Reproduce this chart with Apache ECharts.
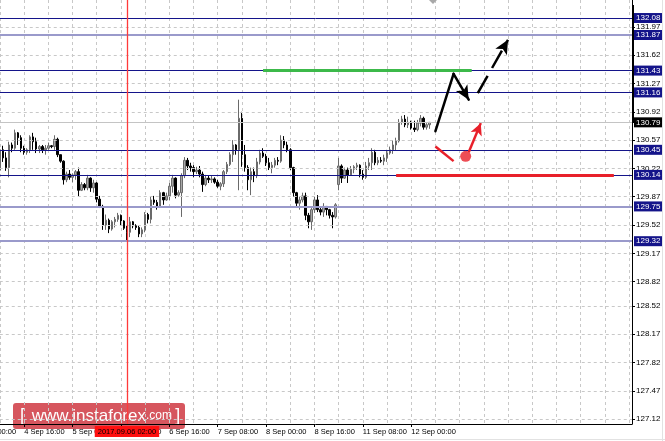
<!DOCTYPE html>
<html><head><meta charset="utf-8">
<script src="https://cdn.jsdelivr.net/npm/echarts@6/dist/echarts.min.js"></script>
<style>html,body{margin:0;padding:0;background:#fff}#c{width:665px;height:441px}</style>
</head><body><div id="c"></div>
<script>
// ---------- DATA ----------
const tradingDays = ['4 Sep','5 Sep','6 Sep','7 Sep','8 Sep','11 Sep','12 Sep','13 Sep','14 Sep','15 Sep'];
const categoryCount = 218;          // hourly bars incl. empty right-side shift
const firstCandleIndex = 8;          // 4 Sep 08:00

const opens = [
130.20,130.45,130.35,130.23,130.51,130.47,130.66,130.60,130.47,130.42,
130.45,130.61,130.55,130.46,130.49,130.45,130.47,130.50,130.49,130.58,
130.39,130.31,130.08,130.15,130.11,130.14,130.18,129.95,130.02,129.98,
130.10,129.98,130.04,129.84,129.75,129.52,129.58,129.47,129.56,129.59,
129.64,129.57,129.48,129.43,129.56,129.51,129.49,129.41,129.46,129.65,
129.59,129.83,129.80,129.74,129.92,129.83,129.88,130.00,130.10,129.89,
129.92,130.13,130.32,130.25,130.23,130.18,130.20,130.15,130.02,130.10,
130.08,130.09,130.05,130.00,130.03,130.18,130.27,130.39,130.51,130.45,
130.84,130.39,130.23,130.08,130.18,130.13,130.30,130.41,130.37,130.29,
130.23,130.26,130.32,130.31,130.57,130.51,130.45,130.23,129.92,129.79,
129.83,129.88,129.64,129.56,129.71,129.83,129.71,129.68,129.75,129.71,
129.64,129.62,130.02,130.25,130.10,130.20,130.14,130.21,130.24,130.26,
130.15,130.11,130.25,130.29,130.42,130.29,130.32,130.31,130.35,130.41,
130.45,130.51,130.56,130.79,130.83,130.76,130.79,130.72,130.70,130.78,
130.84,130.73,130.76];
const closes = [
130.45,130.35,130.23,130.51,130.47,130.66,130.60,130.47,130.42,130.45,
130.61,130.55,130.46,130.49,130.45,130.47,130.50,130.49,130.58,130.39,
130.31,130.08,130.15,130.11,130.14,130.18,129.95,130.02,129.98,130.10,
129.98,130.04,129.84,129.75,129.52,129.58,129.47,129.56,129.59,129.64,
129.57,129.48,129.43,129.56,129.51,129.49,129.41,129.46,129.65,129.59,
129.83,129.80,129.74,129.92,129.83,129.88,130.00,130.10,129.89,129.92,
130.13,130.32,130.25,130.23,130.18,130.20,130.15,130.02,130.10,130.08,
130.09,130.05,130.00,130.03,130.18,130.27,130.39,130.51,130.45,130.84,
130.39,130.23,130.08,130.18,130.13,130.30,130.41,130.37,130.29,130.23,
130.26,130.32,130.31,130.57,130.51,130.45,130.23,129.92,129.79,129.83,
129.88,129.64,129.56,129.71,129.83,129.71,129.68,129.75,129.71,129.64,
129.62,129.77,130.25,130.10,130.20,130.14,130.21,130.24,130.26,130.15,
130.11,130.25,130.29,130.42,130.29,130.32,130.31,130.35,130.41,130.45,
130.51,130.56,130.79,130.83,130.76,130.79,130.72,130.70,130.78,130.84,
130.73,130.76,130.79];
const lows = [
130.10,130.30,130.19,130.11,130.42,130.45,130.51,130.42,130.39,130.39,
130.41,130.45,130.41,130.41,130.41,130.39,130.45,130.47,130.45,130.36,
130.29,130.02,130.05,130.08,130.05,130.08,129.87,129.94,129.95,129.95,
129.93,129.92,129.80,129.73,129.46,129.46,129.42,129.45,129.49,129.56,
129.52,129.46,129.33,129.37,129.48,129.46,129.37,129.37,129.43,129.54,
129.54,129.77,129.71,129.73,129.77,129.82,129.83,129.92,129.85,129.87,
129.62,130.10,130.20,130.18,130.11,130.15,130.11,129.93,130.00,130.04,
130.04,130.03,129.98,129.95,129.99,130.15,130.25,130.30,130.39,129.95,
130.24,130.18,129.95,129.89,130.05,130.10,130.27,130.35,130.25,130.20,
130.16,130.23,130.26,130.29,130.47,130.42,130.20,129.87,129.74,129.71,
129.80,129.58,129.48,129.46,129.67,129.68,129.64,129.62,129.64,129.60,
129.48,129.60,129.95,130.04,130.09,130.04,130.13,130.16,130.20,130.11,
130.08,130.09,130.20,130.20,130.26,130.26,130.29,130.26,130.30,130.39,
130.40,130.44,130.54,130.76,130.73,130.72,130.70,130.67,130.68,130.74,
130.70,130.70,130.71];
const highs = [
130.49,130.50,130.42,130.55,130.54,130.70,130.67,130.63,130.50,130.47,
130.63,130.66,130.60,130.51,130.51,130.51,130.54,130.51,130.63,130.60,
130.39,130.32,130.18,130.20,130.16,130.20,130.23,130.05,130.04,130.14,
130.11,130.08,130.05,129.88,129.77,129.65,129.60,129.58,129.62,129.67,
129.65,129.58,129.51,129.62,129.57,129.53,129.51,129.49,129.68,129.67,
129.87,129.88,129.83,129.95,129.93,129.92,130.04,130.14,130.11,129.95,
130.16,130.36,130.35,130.29,130.26,130.24,130.25,130.18,130.14,130.13,
130.13,130.11,130.08,130.05,130.20,130.30,130.42,130.57,130.52,131.07,
130.92,130.51,130.26,130.23,130.23,130.35,130.45,130.47,130.40,130.35,
130.30,130.35,130.36,130.63,130.62,130.55,130.47,130.24,129.93,129.87,
129.92,129.92,129.67,129.73,129.87,129.89,129.74,129.79,129.75,129.72,
129.68,129.79,130.35,130.27,130.23,130.23,130.25,130.26,130.29,130.27,
130.20,130.30,130.35,130.47,130.45,130.36,130.36,130.39,130.45,130.49,
130.57,130.60,130.83,130.87,130.88,130.86,130.81,130.81,130.82,130.88,
130.86,130.78,130.79];

const xTickLabels = ['4 Sep 00:00','4 Sep 16:00','5 Sep 08:00','6 Sep 00:00','6 Sep 16:00','7 Sep 08:00','8 Sep 00:00','8 Sep 16:00','11 Sep 08:00','12 Sep 00:00'];
const yTickLabels = [131.97,131.62,131.27,130.92,130.57,130.22,129.87,129.52,129.17,128.82,128.52,128.17,127.82,127.47,127.12];
const yRange = [127.059, 132.303];

const levelsDark = [132.08, 131.43, 131.16, 130.45, 130.14];
const levelsLight = [131.87, 129.75, 129.32];
const currentPrice = 130.79;
const markerIndex = 50;
const markerLabel = '2017.09.06 02:00';

// annotations: [categoryIndex, price]
const greenLine = [[95, 131.43], [164, 131.43]];
const redLevelLine = [[139, 130.14], [211, 130.14]];
const blackPath = [[152, 130.68], [158, 131.39], [163, 131.07]];
const blackDashed = [[166, 131.15], [176, 131.81]];
const redSegment = [[152, 130.49], [158, 130.31]];
const redDot = [[162, 130.37]];
const redArrow = [[163, 130.42], [167, 130.78]];

// ---------- BUILD ----------
const categories = [];
for (const d of tradingDays) for (let h = 0; h < 24; h++) {
  if (categories.length < categoryCount) categories.push(d + ' ' + String(h).padStart(2,'0') + ':00');
}
const candleData = categories.map((c, i) => {
  const k = i - firstCandleIndex;
  if (k < 0 || k >= opens.length) return '-';
  return [opens[k], closes[k], lows[k], highs[k]];
});

const NAVY = '#14148a';
const seg = (pts, style, endSym, symSize) => [
  {coord: pts[0], symbol: 'none', lineStyle: style},
  {coord: pts[1], symbol: endSym || 'none', symbolSize: symSize || 0}
];
const lvlLabel = (bg) => ({show: true, position: 'end', distance: 2, formatter: p => p.value.toFixed(2),
  backgroundColor: bg, color: '#fff', fontSize: 8, lineHeight: 9, fontFamily: 'Liberation Sans', padding: [1, 2, 0, 2]});

const chart = echarts.init(document.getElementById('c'), null, {renderer: 'canvas'});
chart.setOption({
  animation: false,
  backgroundColor: '#fff',
  grid: {left: -24.25, right: 33, top: 0, bottom: 17, containLabel: false, outerBoundsMode: 'none'},
  xAxis: {
    type: 'category', data: categories, boundaryGap: false,
    axisLine: {show: true, lineStyle: {color: '#000', width: 1}},
    axisTick: {show: true, length: 3, interval: (i, v) => xTickLabels.includes(v), lineStyle: {color: '#000'}},
    axisLabel: {show: true, interval: (i, v) => xTickLabels.includes(v), align: 'left', margin: 4,
      fontSize: 7.5, fontFamily: 'Liberation Sans', color: '#000', hideOverlap: false},
    splitLine: {show: true, interval: (i) => i % 8 === 0, lineStyle: {color: '#c8c8c8', type: [3, 3], width: 1}}
  },
  yAxis: {
    type: 'value', position: 'right', min: yRange[0], max: yRange[1], scale: true,
    axisLine: {show: true, lineStyle: {color: '#000'}},
    axisTick: {show: true, length: 3, customValues: yTickLabels, lineStyle: {color: '#000'}},
    axisLabel: {show: true, customValues: yTickLabels, formatter: v => Number(v).toFixed(2), margin: 4,
      fontSize: 8, fontFamily: 'Liberation Sans', color: '#000'},
    splitLine: {show: false}
  },
  series: [
    { // dashed horizontal grid
      type: 'line', data: [], z: 0, silent: true,
      markLine: {silent: true, symbol: 'none', animation: false, label: {show: false},
        lineStyle: {color: '#c8c8c8', type: [3, 3], width: 1},
        data: yTickLabels.map(v => ({yAxis: v}))}
    },
    { // levels
      type: 'line', data: [], z: 1, silent: true,
      markLine: {silent: true, symbol: 'none', animation: false,
        data: [
          ...levelsDark.map(v => ({yAxis: v, lineStyle: {color: NAVY, width: 1, type: 'solid'}, label: lvlLabel(NAVY)})),
          ...levelsLight.map(v => ({yAxis: v, lineStyle: {color: '#9a9acb', width: 2, type: 'solid'}, label: lvlLabel(NAVY)})),
          {yAxis: currentPrice, lineStyle: {color: '#c4c4c4', width: 1, type: 'solid'}, label: lvlLabel('#000')}
        ]}
    },
    { // vertical marker line with its bottom time label
      type: 'line', data: [], z: 2, silent: true,
      markLine: {silent: true, symbol: 'none', animation: false,
        data: [[
          {coord: [markerIndex, yRange[0]], lineStyle: {color: '#ff3a3a', width: 1.3, type: 'solid'},
            label: {show: true, position: 'start', distance: 2, formatter: markerLabel, backgroundColor: '#ff1010',
              color: '#000', fontSize: 7.5, fontFamily: 'Liberation Sans', padding: [2, 3, 1, 3]}},
          {coord: [markerIndex, yRange[1]]}
        ]]}
    },
    {
      type: 'candlestick', data: candleData, z: 3, barWidth: 2, silent: true,
      itemStyle: {color: '#a8a8a8', color0: '#000', borderColor: '#6a6a6a', borderColor0: '#000', borderWidth: 1}
    },
    { // annotations
      type: 'line', data: [], z: 5, silent: true,
      markLine: {silent: true, animation: false, label: {show: false}, symbol: 'none',
        data: [
          seg(greenLine, {color: '#3cb94a', width: 3, type: 'solid'}),
          seg(redLevelLine, {color: '#e8202a', width: 3, type: 'solid'}),
          seg([blackPath[0], blackPath[1]], {color: '#000', width: 2.5, type: 'solid', cap: 'round'}),
          seg([blackPath[1], blackPath[2]], {color: '#000', width: 2.5, type: 'solid', cap: 'round'}, 'arrow', [10, 14]),
          seg(blackDashed, {color: '#000', width: 2.5, type: [20, 9]}, 'arrow', [10, 14]),
          seg(redSegment, {color: '#e8202a', width: 2.5, type: 'solid'}),
          seg(redArrow, {color: '#e8202a', width: 2.5, type: 'solid'}, 'arrow', [9, 12])
        ]}
    },
    {
      type: 'scatter', data: redDot, z: 6, symbolSize: 11, silent: true,
      itemStyle: {color: '#e8202a'}
    }
  ],
  graphic: [
    {type: 'line', shape: {x1: 633, y1: 5, x2: 633, y2: 123}, style: {stroke: '#000', lineWidth: 2}, z: 10},
    {type: 'polygon', shape: {points: [[429, 0], [437, 0], [433, 4]]}, style: {fill: '#a8a8a8'}, z: 10},
    {type: 'line', shape: {x1: 662.5, y1: 0, x2: 662.5, y2: 441}, style: {stroke: '#e2e2e2', lineWidth: 1}, z: 10},
    {type: 'line', shape: {x1: 0, y1: 439.5, x2: 665, y2: 439.5}, style: {stroke: '#e2e2e2', lineWidth: 1}, z: 10},
    {type: 'group', left: 13, top: 403, z: 20, children: [
      {type: 'rect', shape: {x: 0, y: 0, width: 172, height: 26, r: 3}, style: {fill: 'rgba(200,30,40,0.75)'}},
      {type: 'text', x: 7, y: 13, style: {
        text: '{b|[}  {w|www.instaforex}{c|.com} {b|]}', verticalAlign: 'middle', fill: '#fff',
        rich: {
          b: {fontSize: 18, fill: '#fff', fontFamily: 'Liberation Sans'},
          w: {fontSize: 17, fill: '#fff', fontFamily: 'Liberation Sans'},
          c: {fontSize: 12, fill: '#fff', fontFamily: 'Liberation Sans'}
        }}}
    ]}
  ]
});
</script></body></html>
